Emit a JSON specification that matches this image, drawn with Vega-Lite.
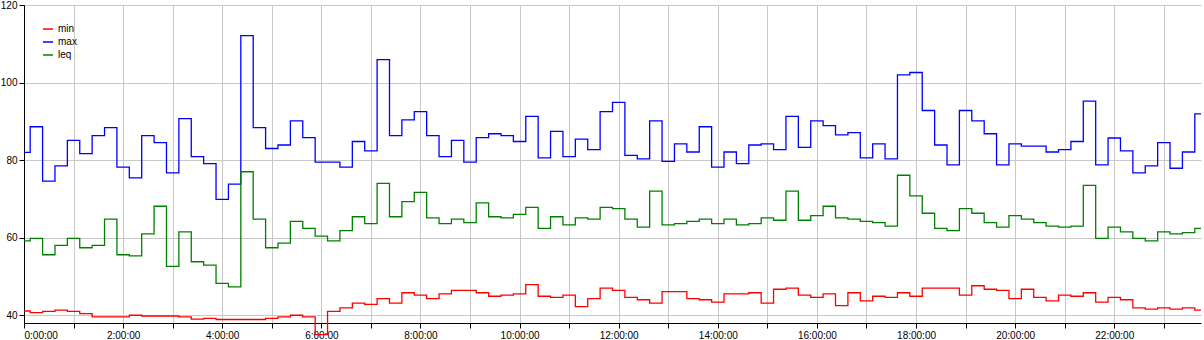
{
  "$schema": "https://vega.github.io/schema/vega-lite/v6.json",
  "width": 1204,
  "height": 340,
  "autosize": {"type": "fit", "contains": "padding"},
  "padding": 0,
  "config": {"view": {"stroke": null}},
  "data": {"values": [
    {"t":"2015-08-13T00:00","min":41.1,"max":82.0,"leq":59.2},
    {"t":"2015-08-13T00:15","min":40.7,"max":88.6,"leq":59.8},
    {"t":"2015-08-13T00:30","min":41.0,"max":74.6,"leq":55.6},
    {"t":"2015-08-13T00:45","min":41.3,"max":78.5,"leq":58.0},
    {"t":"2015-08-13T01:00","min":41.0,"max":85.1,"leq":59.8},
    {"t":"2015-08-13T01:15","min":40.4,"max":81.7,"leq":57.4},
    {"t":"2015-08-13T01:30","min":39.6,"max":86.3,"leq":58.0},
    {"t":"2015-08-13T01:45","min":39.6,"max":88.4,"leq":64.8},
    {"t":"2015-08-13T02:00","min":39.6,"max":78.2,"leq":55.6},
    {"t":"2015-08-13T02:15","min":40.0,"max":75.4,"leq":55.3},
    {"t":"2015-08-13T02:30","min":39.8,"max":86.3,"leq":61.0},
    {"t":"2015-08-13T02:45","min":39.8,"max":84.5,"leq":68.1},
    {"t":"2015-08-13T03:00","min":39.8,"max":76.7,"leq":52.6},
    {"t":"2015-08-13T03:15","min":39.6,"max":90.7,"leq":61.5},
    {"t":"2015-08-13T03:30","min":39.0,"max":80.9,"leq":53.8},
    {"t":"2015-08-13T03:45","min":39.2,"max":79.1,"leq":52.9},
    {"t":"2015-08-13T04:00","min":38.9,"max":69.9,"leq":48.2},
    {"t":"2015-08-13T04:15","min":38.9,"max":73.8,"leq":47.3},
    {"t":"2015-08-13T04:30","min":38.9,"max":112.1,"leq":77.0},
    {"t":"2015-08-13T04:45","min":38.9,"max":88.4,"leq":64.8},
    {"t":"2015-08-13T05:00","min":39.2,"max":83.0,"leq":57.4},
    {"t":"2015-08-13T05:15","min":39.6,"max":83.9,"leq":58.6},
    {"t":"2015-08-13T05:30","min":40.0,"max":90.1,"leq":64.2},
    {"t":"2015-08-13T05:45","min":39.6,"max":85.8,"leq":62.4},
    {"t":"2015-08-13T06:00","min":35.0,"max":79.5,"leq":60.4},
    {"t":"2015-08-13T06:15","min":41.0,"max":79.5,"leq":59.2},
    {"t":"2015-08-13T06:30","min":41.9,"max":78.2,"leq":61.8},
    {"t":"2015-08-13T06:45","min":43.1,"max":84.8,"leq":65.4},
    {"t":"2015-08-13T07:00","min":42.8,"max":82.4,"leq":63.6},
    {"t":"2015-08-13T07:15","min":44.3,"max":105.9,"leq":74.0},
    {"t":"2015-08-13T07:30","min":43.1,"max":86.3,"leq":65.4},
    {"t":"2015-08-13T07:45","min":45.8,"max":90.4,"leq":69.3},
    {"t":"2015-08-13T08:00","min":45.2,"max":92.5,"leq":71.7},
    {"t":"2015-08-13T08:15","min":44.3,"max":86.3,"leq":65.1},
    {"t":"2015-08-13T08:30","min":45.5,"max":80.9,"leq":63.6},
    {"t":"2015-08-13T08:45","min":46.4,"max":85.1,"leq":64.8},
    {"t":"2015-08-13T09:00","min":46.4,"max":79.5,"leq":63.9},
    {"t":"2015-08-13T09:15","min":45.8,"max":85.8,"leq":69.0},
    {"t":"2015-08-13T09:30","min":44.9,"max":86.8,"leq":65.4},
    {"t":"2015-08-13T09:45","min":45.2,"max":86.3,"leq":65.1},
    {"t":"2015-08-13T10:00","min":45.5,"max":84.8,"leq":66.0},
    {"t":"2015-08-13T10:15","min":47.9,"max":91.3,"leq":67.8},
    {"t":"2015-08-13T10:30","min":44.9,"max":80.6,"leq":62.4},
    {"t":"2015-08-13T10:45","min":44.6,"max":87.4,"leq":65.4},
    {"t":"2015-08-13T11:00","min":45.2,"max":80.9,"leq":63.3},
    {"t":"2015-08-13T11:15","min":42.2,"max":85.4,"leq":65.1},
    {"t":"2015-08-13T11:30","min":44.3,"max":82.7,"leq":64.8},
    {"t":"2015-08-13T11:45","min":47.0,"max":92.5,"leq":67.8},
    {"t":"2015-08-13T12:00","min":46.4,"max":94.9,"leq":67.5},
    {"t":"2015-08-13T12:15","min":44.6,"max":81.2,"leq":64.8},
    {"t":"2015-08-13T12:30","min":44.0,"max":80.3,"leq":62.7},
    {"t":"2015-08-13T12:45","min":43.1,"max":90.1,"leq":72.0},
    {"t":"2015-08-13T13:00","min":46.1,"max":79.7,"leq":63.3},
    {"t":"2015-08-13T13:15","min":46.1,"max":84.2,"leq":63.6},
    {"t":"2015-08-13T13:30","min":44.3,"max":82.1,"leq":64.2},
    {"t":"2015-08-13T13:45","min":44.0,"max":88.6,"leq":64.8},
    {"t":"2015-08-13T14:00","min":43.4,"max":78.2,"leq":63.6},
    {"t":"2015-08-13T14:15","min":45.5,"max":82.1,"leq":64.8},
    {"t":"2015-08-13T14:30","min":45.5,"max":79.1,"leq":63.3},
    {"t":"2015-08-13T14:45","min":45.8,"max":83.9,"leq":63.6},
    {"t":"2015-08-13T15:00","min":43.1,"max":84.2,"leq":65.1},
    {"t":"2015-08-13T15:15","min":46.7,"max":82.7,"leq":64.5},
    {"t":"2015-08-13T15:30","min":47.0,"max":91.3,"leq":72.0},
    {"t":"2015-08-13T15:45","min":45.2,"max":83.3,"leq":64.5},
    {"t":"2015-08-13T16:00","min":44.6,"max":90.1,"leq":65.7},
    {"t":"2015-08-13T16:15","min":45.5,"max":88.9,"leq":68.1},
    {"t":"2015-08-13T16:30","min":42.5,"max":86.5,"leq":65.1},
    {"t":"2015-08-13T16:45","min":45.8,"max":87.1,"leq":64.8},
    {"t":"2015-08-13T17:00","min":43.7,"max":80.6,"leq":64.2},
    {"t":"2015-08-13T17:15","min":44.9,"max":84.2,"leq":63.9},
    {"t":"2015-08-13T17:30","min":44.6,"max":80.3,"leq":63.0},
    {"t":"2015-08-13T17:45","min":45.8,"max":102.0,"leq":76.1},
    {"t":"2015-08-13T18:00","min":44.9,"max":102.6,"leq":70.8},
    {"t":"2015-08-13T18:15","min":47.0,"max":92.8,"leq":66.3},
    {"t":"2015-08-13T18:30","min":47.0,"max":83.9,"leq":62.4},
    {"t":"2015-08-13T18:45","min":47.0,"max":78.8,"leq":61.8},
    {"t":"2015-08-13T19:00","min":45.2,"max":92.8,"leq":67.5},
    {"t":"2015-08-13T19:15","min":47.6,"max":90.1,"leq":66.3},
    {"t":"2015-08-13T19:30","min":46.7,"max":86.8,"leq":63.9},
    {"t":"2015-08-13T19:45","min":46.4,"max":78.8,"leq":62.7},
    {"t":"2015-08-13T20:00","min":44.3,"max":84.2,"leq":65.7},
    {"t":"2015-08-13T20:15","min":46.7,"max":83.6,"leq":64.8},
    {"t":"2015-08-13T20:30","min":44.6,"max":83.6,"leq":63.9},
    {"t":"2015-08-13T20:45","min":43.7,"max":82.1,"leq":63.0},
    {"t":"2015-08-13T21:00","min":45.2,"max":82.7,"leq":62.7},
    {"t":"2015-08-13T21:15","min":44.9,"max":84.8,"leq":63.0},
    {"t":"2015-08-13T21:30","min":45.8,"max":95.2,"leq":73.5},
    {"t":"2015-08-13T21:45","min":43.4,"max":78.8,"leq":59.8},
    {"t":"2015-08-13T22:00","min":44.6,"max":85.7,"leq":62.7},
    {"t":"2015-08-13T22:15","min":44.0,"max":82.4,"leq":61.5},
    {"t":"2015-08-13T22:30","min":41.9,"max":76.7,"leq":59.8},
    {"t":"2015-08-13T22:45","min":41.6,"max":78.5,"leq":59.2},
    {"t":"2015-08-13T23:00","min":41.9,"max":84.5,"leq":61.5},
    {"t":"2015-08-13T23:15","min":41.6,"max":77.9,"leq":61.0},
    {"t":"2015-08-13T23:30","min":41.9,"max":82.1,"leq":61.3},
    {"t":"2015-08-13T23:45","min":41.3,"max":91.9,"leq":62.4}
  ]},
  "transform": [{"fold": ["min", "max", "leq"], "as": ["series", "v"]}],
  "mark": {"type": "line", "interpolate": "step", "strokeWidth": 1.3},
  "encoding": {
    "x": {
      "field": "t", "type": "temporal",
      "axis": {"title": null, "format": "%-H:%M:%S", "labelColor": "black", "tickColor": "black", "domainColor": "black", "gridColor": "#c8c8c8"}
    },
    "y": {
      "field": "v", "type": "quantitative",
      "scale": {"domain": [38, 120], "nice": false, "zero": false},
      "axis": {"values": [40, 60, 80, 100, 120], "title": null, "labelColor": "black", "tickColor": "black", "domainColor": "black", "gridColor": "#c8c8c8"}
    },
    "color": {
      "field": "series", "type": "nominal",
      "scale": {"domain": ["min", "max", "leq"], "range": ["#ff0000", "#0000ff", "#008000"]},
      "legend": {"title": null, "orient": "top-left"}
    }
  }
}
